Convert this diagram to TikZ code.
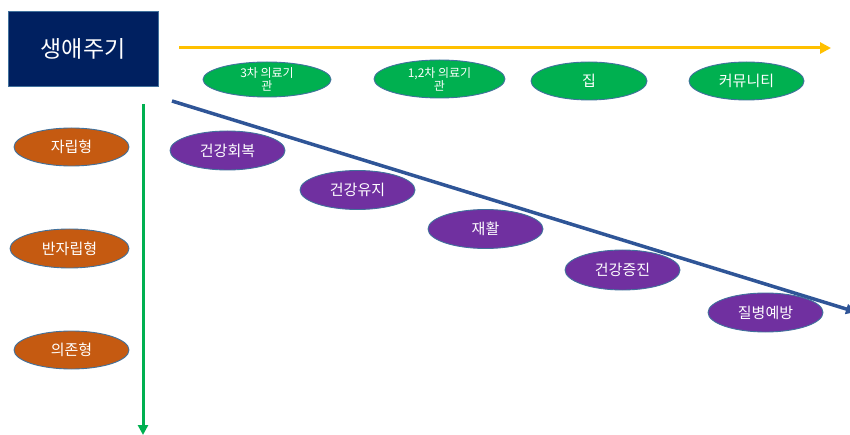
\documentclass[tikz,border=0pt]{standalone}
\usepackage{fontspec}
\setmainfont{Noto Sans CJK KR}
\usetikzlibrary{shapes.geometric,arrows.meta}
\definecolor{navy}{HTML}{002060}
\definecolor{edgeblue}{HTML}{41719C}
\definecolor{gold}{HTML}{FFC000}
\definecolor{grn}{HTML}{00B050}
\definecolor{orng}{HTML}{C55A11}
\definecolor{purp}{HTML}{7030A0}
\definecolor{lineblue}{HTML}{2F5597}
\tikzset{
  oval/.style={ellipse, draw=edgeblue, line width=0.9pt, inner sep=0pt, text=white, align=center},
  place/.style={oval, fill=grn, minimum width=128pt, minimum height=37pt, font=\fontsize{12}{13}\selectfont},
  kind/.style={oval, fill=orng, minimum width=116pt, minimum height=38pt, font=\fontsize{15}{17}\selectfont},
  care/.style={oval, fill=purp, minimum width=115pt, minimum height=39pt, font=\fontsize{15}{17}\selectfont},
}
\begin{document}
\begin{tikzpicture}[x=1pt,y=-1pt]
\useasboundingbox (0,0) rectangle (850,435);
\node[draw=edgeblue, line width=0.8pt, fill=navy, text=white, minimum width=150pt, minimum height=75pt, inner sep=0pt, font=\fontsize{23}{26}\selectfont] (title) at (83,48.5) {생애주기};

\coordinate (ys) at (179,48);
\coordinate (ye) at (831,48);
\draw[gold, line width=3pt, -{Triangle[length=11pt,width=11pt]}] (ys) -- (ye);

\coordinate (gs) at (143,104);
\coordinate (ge) at (143,435);
\draw[grn, line width=3pt, -{Triangle[length=10pt,width=10pt]}] (gs) -- (ge);

\coordinate (bs) at (172,101);
\coordinate (be) at (856,312);
\draw[lineblue, line width=3.5pt, -{Triangle[length=10pt,width=10pt]}] (bs) -- (be);

\node[place, minimum width=128pt, minimum height=35pt] (p1) at (267,79.5) {3차 의료기\\관};
\node[place, minimum width=131pt, minimum height=38pt] (p2) at (439.5,79) {1,2차 의료기\\관};
\node[place, minimum width=116pt, minimum height=38pt, font=\fontsize{15}{17}\selectfont] (p3) at (589,81) {집};
\node[place, minimum width=115pt, minimum height=38pt, font=\fontsize{15}{17}\selectfont] (p4) at (746.5,81) {커뮤니티};

\node[kind, minimum width=115pt] (k1) at (71.5,147) {자립형};
\node[kind, minimum width=119pt, minimum height=39pt] (k2) at (69.5,248.5) {반자립형};
\node[kind, minimum width=115pt] (k3) at (71.5,350) {의존형};

\node[care] (c1) at (227.5,150.5) {건강회복};
\node[care] (c2) at (357.5,190) {건강유지};
\node[care] (c3) at (485.5,229) {재활};
\node[care, minimum height=40pt] (c4) at (622.5,270) {건강증진};
\node[care] (c5) at (765.5,312.5) {질병예방};
\end{tikzpicture}
\end{document}
